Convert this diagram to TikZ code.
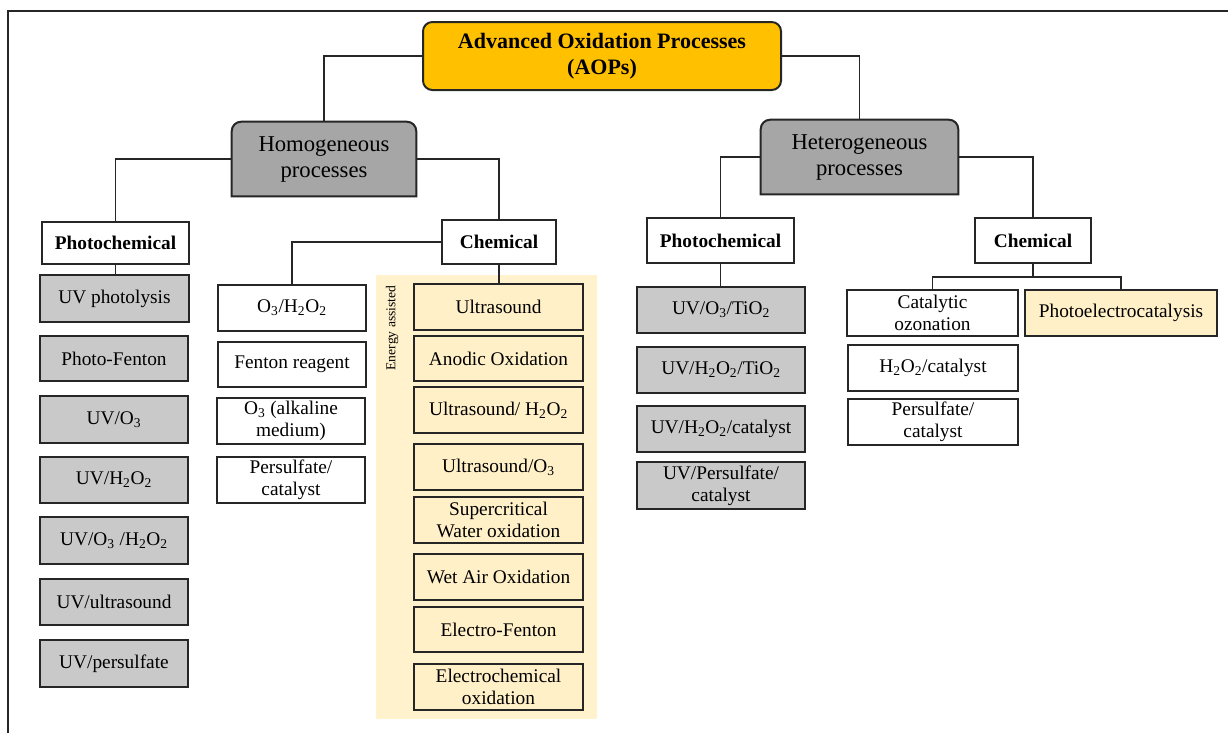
\documentclass[tikz,border=0pt]{standalone}
\usepackage{fontspec}
\setmainfont{Liberation Serif}
\definecolor{aopfill}{HTML}{FFC000}
\definecolor{hdfill}{HTML}{A6A6A6}
\definecolor{leafgray}{HTML}{C9C9C9}
\definecolor{eabg}{HTML}{FFF2CC}
\definecolor{eabox}{HTML}{FFF0C8}
\definecolor{ln}{HTML}{262626}
\newcommand\mkbox[7]{\node[#1, minimum width={(#4-#3)*0.75pt}, minimum height={(#6-#5)*0.75pt}] (#2) at ({(#3+#4)/2},{(#5+#6)/2}) {#7};}
\newcommand\sub[1]{\textsubscript{#1}}
\tikzset{
  base/.style={rectangle, inner sep=0pt, align=center, draw=ln, line width=1.5pt, font=\fontsize{14.5}{16.5}\selectfont},
  whitebox/.style={base, fill=white},
  graybox/.style={base, fill=leafgray},
  yelbox/.style={base, fill=eabox},
  catbox/.style={base, fill=white, font=\fontsize{14.5}{16.5}\selectfont\bfseries},
  aopbox/.style={base, fill=aopfill, rounded corners=7pt, font=\fontsize{16.5}{19.5}\selectfont\bfseries},
  procbox/.style={rectangle, inner sep=0pt, align=center, font=\fontsize{17}{19.5}\selectfont},
  procshape/.style={draw=ln, fill=hdfill, line width=1.5pt},
  conn/.style={draw=ln, line width=1.2pt}
}
\begin{document}
\begin{tikzpicture}[x=0.75pt, y=-0.75pt]
\useasboundingbox (0,0) rectangle (1228,733);
% frame
\draw[draw=ln, line width=0.9pt] (8,733) -- (8,11) -- (1228,11);
% energy assisted background
\fill[eabg] (376,275) rectangle (597,719);
\node[rotate=90, font=\fontsize{10.2}{12}\selectfont, inner sep=0pt] (ealabel) at (392,328) {Energy assisted};

% top
\mkbox{aopbox}{aop}{423}{781}{22}{90}{Advanced Oxidation Processes\\(AOPs)}
\mkbox{procbox}{homo}{232}{416}{122}{196}{}
\mkbox{procbox}{hetero}{761}{958}{120}{194}{}
\foreach \n in {homo,hetero}{
  \draw[procshape] (\n.south west) -- ([yshift=-7pt]\n.north west) arc[start angle=180,end angle=90,radius=7pt] -- ([xshift=-7pt]\n.north east) arc[start angle=90,end angle=0,radius=7pt] -- (\n.south east) -- cycle;
}
\node[procbox] (homotext) at (homo.center) {Homogeneous\\processes};
\node[procbox] (heterotext) at (hetero.center) {Heterogeneous\\processes};

% second level
\mkbox{catbox}{photL}{42}{189}{222}{264}{Photochemical}
\mkbox{catbox}{chemL}{442}{556}{220}{264}{Chemical}
\mkbox{catbox}{photR}{647}{794}{218}{263}{Photochemical}
\mkbox{catbox}{chemR}{975}{1091}{218}{263}{Chemical}

% left photochemical column
\mkbox{graybox}{l1}{40}{189}{275}{322}{UV photolysis}
\mkbox{graybox}{l2}{40}{188}{336}{381}{Photo-Fenton}
\mkbox{graybox}{l3}{40}{188}{396}{443}{UV/O\sub{3}}
\mkbox{graybox}{l4}{40}{188}{457}{503}{UV/H\sub{2}O\sub{2}}
\mkbox{graybox}{l5}{40}{188}{517}{564}{UV/O\sub{3} /H\sub{2}O\sub{2}}
\mkbox{graybox}{l6}{40}{188}{579}{625}{UV/ultrasound}
\mkbox{graybox}{l7}{40}{188}{640}{687}{UV/persulfate}

% middle chemical column
\mkbox{whitebox}{m1}{218}{366}{285}{331}{O\sub{3}/H\sub{2}O\sub{2}}
\mkbox{whitebox}{m2}{218}{366}{342}{387}{Fenton reagent}
\mkbox{whitebox}{m3}{217}{365}{398}{444}{O\sub{3} (alkaline\\medium)}
\mkbox{whitebox}{m4}{217}{365}{457}{503}{Persulfate/\\catalyst}

% energy assisted column
\mkbox{yelbox}{e1}{414}{583}{284}{330}{Ultrasound}
\mkbox{yelbox}{e2}{414}{583}{336}{381}{Anodic Oxidation}
\mkbox{yelbox}{e3}{414}{583}{387}{433}{Ultrasound/ H\sub{2}O\sub{2}}
\mkbox{yelbox}{e4}{414}{583}{444}{490}{Ultrasound/O\sub{3}}
\mkbox{yelbox}{e5}{414}{583}{497}{543}{Supercritical\\Water oxidation}
\mkbox{yelbox}{e6}{414}{583}{554}{600}{Wet Air Oxidation}
\mkbox{yelbox}{e7}{414}{583}{607}{652}{Electro-Fenton}
\mkbox{yelbox}{e8}{414}{583}{664}{710}{Electrochemical\\oxidation}

% right photochemical column
\mkbox{graybox}{r1}{637}{805}{287}{333}{UV/O\sub{3}/TiO\sub{2}}
\mkbox{graybox}{r2}{637}{805}{347}{393}{UV/H\sub{2}O\sub{2}/TiO\sub{2}}
\mkbox{graybox}{r3}{637}{805}{406}{452}{UV/H\sub{2}O\sub{2}/catalyst}
\mkbox{graybox}{r4}{637}{805}{462}{509}{UV/Persulfate/\\catalyst}

% right chemical column
\mkbox{whitebox}{c1}{847}{1018}{290}{336}{Catalytic\\ozonation}
\mkbox{yelbox}{c2}{1025}{1217}{290}{336}{Photoelectrocatalysis}
\mkbox{whitebox}{c3}{848}{1018}{345}{391}{H\sub{2}O\sub{2}/catalyst}
\mkbox{whitebox}{c4}{848}{1018}{399}{445}{Persulfate/\\catalyst}

% connectors
\draw[conn] (aop.west) -| (homo.north);
\draw[conn] (aop.east) -| (hetero.north);
\draw[conn] (homo.west) -| (photL.north);
\draw[conn] (homo.east) -| (chemL.north);
\draw[conn] (hetero.west) -| (photR.north);
\draw[conn] (hetero.east) -| (chemR.north);
\draw[conn] (photL.south) -- (photL.south |- l1.north);
\draw[conn] (chemL.west) -| (m1.north);
\draw[conn] (chemL.south) -- (chemL.south |- e1.north);
\draw[conn] (photR.south) -- (photR.south |- r1.north);
\coordinate (cj) at (chemR.south |- 0,277);
\draw[conn] (chemR.south) -- (cj);
\draw[conn] (c1.north) |- (cj) -| (c2.north);
\end{tikzpicture}
\end{document}
